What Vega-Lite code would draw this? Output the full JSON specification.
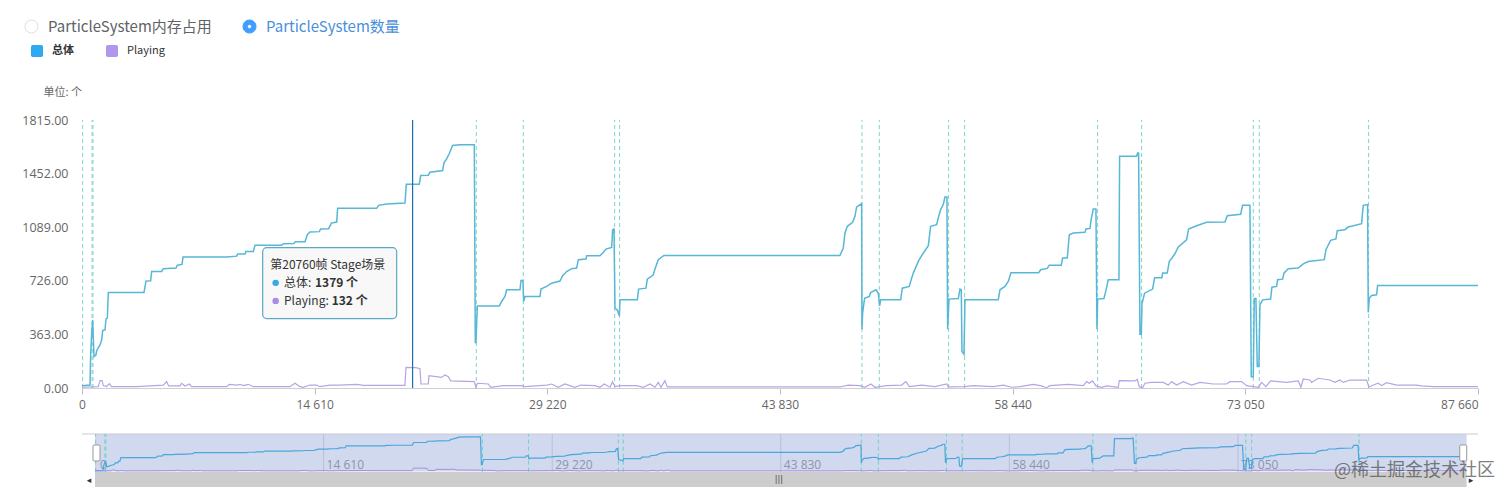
{
  "$schema": "https://vega.github.io/schema/vega-lite/v6.json",
  "background": "white",
  "padding": {"left": 21, "top": 19, "right": 0, "bottom": 0},
  "bounds": "flush",
  "spacing": 46,
  "config": {
    "view": {"stroke": null},
    "font": "Noto Sans CJK SC"
  },
  "datasets": {
    "total": [
      {"frame":0,"count":16},{"frame":502,"count":20},{"frame":544,"count":224},{"frame":607,"count":371},{"frame":670,"count":461},{"frame":753,"count":213},{"frame":879,"count":224},{"frame":921,"count":253},{"frame":1130,"count":292},{"frame":1235,"count":326},{"frame":1298,"count":389},{"frame":1444,"count":394},{"frame":1507,"count":468},{"frame":1591,"count":473},{"frame":1653,"count":647},{"frame":3893,"count":647},{"frame":4019,"count":724},{"frame":4312,"count":726},{"frame":4374,"count":789},{"frame":5002,"count":789},{"frame":5107,"count":808},{"frame":5902,"count":812},{"frame":5986,"count":832},{"frame":6279,"count":837},{"frame":6342,"count":887},{"frame":9084,"count":887},{"frame":9712,"count":893},{"frame":9774,"count":907},{"frame":10235,"count":907},{"frame":10298,"count":925},{"frame":10758,"count":925},{"frame":10863,"count":966},{"frame":12537,"count":966},{"frame":12642,"count":977},{"frame":13311,"count":979},{"frame":13395,"count":991},{"frame":14002,"count":991},{"frame":14149,"count":1038},{"frame":14316,"count":1056},{"frame":14902,"count":1059},{"frame":14986,"count":1077},{"frame":15488,"count":1079},{"frame":15656,"count":1117},{"frame":15991,"count":1124},{"frame":16053,"count":1217},{"frame":18502,"count":1217},{"frame":18628,"count":1237},{"frame":19130,"count":1246},{"frame":20281,"count":1253},{"frame":20365,"count":1380},{"frame":21181,"count":1380},{"frame":21265,"count":1439},{"frame":21746,"count":1441},{"frame":21851,"count":1461},{"frame":22646,"count":1473},{"frame":22730,"count":1525},{"frame":22897,"count":1552},{"frame":23065,"count":1588},{"frame":23274,"count":1642},{"frame":23735,"count":1647},{"frame":24635,"count":1647},{"frame":24697,"count":308},{"frame":24739,"count":308},{"frame":24823,"count":556},{"frame":26204,"count":556},{"frame":26351,"count":586},{"frame":26560,"count":620},{"frame":26665,"count":665},{"frame":27502,"count":665},{"frame":27565,"count":728},{"frame":27690,"count":728},{"frame":27732,"count":586},{"frame":27816,"count":620},{"frame":28758,"count":620},{"frame":28821,"count":670},{"frame":29176,"count":688},{"frame":29490,"count":710},{"frame":30014,"count":724},
      {"frame":30181,"count":760},{"frame":30433,"count":789},{"frame":30747,"count":808},{"frame":31061,"count":812},{"frame":31165,"count":869},{"frame":31647,"count":873},{"frame":31688,"count":896},{"frame":32526,"count":896},{"frame":32735,"count":918},{"frame":32902,"count":941},{"frame":33258,"count":952},{"frame":33321,"count":1072},{"frame":33405,"count":1077},{"frame":33467,"count":541},{"frame":33614,"count":529},{"frame":33740,"count":489},{"frame":33781,"count":597},{"frame":34870,"count":597},{"frame":34953,"count":670},{"frame":35414,"count":676},{"frame":35498,"count":737},{"frame":35874,"count":767},{"frame":36000,"count":812},{"frame":36188,"count":869},{"frame":36544,"count":898},{"frame":47595,"count":898},{"frame":47805,"count":948},{"frame":47909,"count":1050},{"frame":48056,"count":1095},{"frame":48391,"count":1122},{"frame":48537,"count":1163},{"frame":48642,"count":1226},{"frame":48956,"count":1249},{"frame":48977,"count":398},{"frame":49018,"count":507},{"frame":49144,"count":608},{"frame":49437,"count":620},{"frame":49521,"count":647},{"frame":49856,"count":665},{"frame":50002,"count":642},{"frame":50086,"count":556},{"frame":50149,"count":597},{"frame":51405,"count":597},{"frame":51510,"count":676},{"frame":51949,"count":688},{"frame":52095,"count":744},{"frame":52200,"count":778},{"frame":52514,"count":857},{"frame":52723,"count":896},{"frame":53142,"count":964},{"frame":53288,"count":1095},{"frame":53665,"count":1106},{"frame":53770,"count":1151},{"frame":53916,"count":1208},{"frame":54083,"count":1242},{"frame":54188,"count":1294},{"frame":54314,"count":1294},{"frame":54356,"count":398},{"frame":54439,"count":602},{"frame":55025,"count":606},{"frame":55130,"count":670},{"frame":55214,"count":665},{"frame":55255,"count":247},{"frame":55381,"count":228},{"frame":55444,"count":597},{"frame":57537,"count":597},{"frame":57642,"count":665},{"frame":57956,"count":688},{"frame":58165,"count":722},{"frame":58332,"count":780},{"frame":60069,"count":780},{"frame":60195,"count":801},{"frame":60614,"count":810},{"frame":60739,"count":832},
      {"frame":61492,"count":832},{"frame":61576,"count":880},{"frame":61869,"count":880},{"frame":61995,"count":1038},{"frame":62246,"count":1050},{"frame":62978,"count":1054},{"frame":63041,"count":1077},{"frame":63292,"count":1081},{"frame":63376,"count":1145},{"frame":63502,"count":1212},{"frame":63669,"count":1212},{"frame":63732,"count":398},{"frame":63774,"count":602},{"frame":64171,"count":606},{"frame":64297,"count":661},{"frame":64443,"count":733},{"frame":65113,"count":733},{"frame":65155,"count":1570},{"frame":66223,"count":1570},{"frame":66285,"count":1592},{"frame":66348,"count":1592},{"frame":66432,"count":364},{"frame":66516,"count":364},{"frame":66558,"count":570},{"frame":66725,"count":642},{"frame":67227,"count":670},{"frame":67353,"count":746},{"frame":67813,"count":746},{"frame":67855,"count":778},{"frame":68148,"count":778},{"frame":68273,"count":857},{"frame":68629,"count":909},{"frame":68839,"count":955},{"frame":69362,"count":1004},{"frame":69488,"count":1077},{"frame":69990,"count":1099},{"frame":70618,"count":1122},{"frame":71769,"count":1124},{"frame":71915,"count":1167},{"frame":72752,"count":1176},{"frame":72878,"count":1237},{"frame":73339,"count":1237},{"frame":73422,"count":77},{"frame":73548,"count":77},{"frame":73611,"count":606},{"frame":73715,"count":606},{"frame":73799,"count":145},{"frame":73904,"count":145},{"frame":73967,"count":563},{"frame":74134,"count":597},{"frame":74636,"count":602},{"frame":74720,"count":683},{"frame":75013,"count":688},{"frame":75076,"count":733},{"frame":75390,"count":737},{"frame":75474,"count":778},{"frame":75745,"count":808},{"frame":76373,"count":812},{"frame":76687,"count":841},{"frame":77001,"count":857},{"frame":78006,"count":869},{"frame":78111,"count":936},{"frame":78404,"count":1000},{"frame":78738,"count":1009},{"frame":78822,"count":1065},{"frame":79303,"count":1072},{"frame":79513,"count":1090},{"frame":80350,"count":1113},{"frame":80455,"count":1237},{"frame":80727,"count":1242},{"frame":80769,"count":511},{"frame":80831,"count":608},{"frame":80978,"count":627},{"frame":81292,"count":631},{"frame":81355,"count":694},{"frame":87660,"count":694}
    ],
    "playing": [
      {"frame":0,"count":5},{"frame":1026,"count":9},{"frame":1130,"count":50},{"frame":1256,"count":50},{"frame":1340,"count":16},{"frame":1549,"count":9},{"frame":1716,"count":29},{"frame":1863,"count":9},{"frame":3433,"count":9},{"frame":5107,"count":20},{"frame":5316,"count":43},{"frame":5442,"count":14},{"frame":6153,"count":14},{"frame":6258,"count":32},{"frame":6467,"count":14},{"frame":6739,"count":27},{"frame":6886,"count":9},{"frame":9084,"count":9},{"frame":9251,"count":25},{"frame":9712,"count":20},{"frame":9921,"count":25},{"frame":10130,"count":16},{"frame":10444,"count":25},{"frame":10758,"count":9},{"frame":13060,"count":9},{"frame":13374,"count":32},{"frame":13688,"count":9},{"frame":13897,"count":5},{"frame":14316,"count":20},{"frame":14735,"count":20},{"frame":14944,"count":9},{"frame":15572,"count":20},{"frame":16200,"count":20},{"frame":17246,"count":25},{"frame":17665,"count":18},{"frame":20281,"count":18},{"frame":20344,"count":140},{"frame":20972,"count":138},{"frame":21223,"count":131},{"frame":21286,"count":27},{"frame":21746,"count":27},{"frame":21788,"count":84},{"frame":22583,"count":72},{"frame":22793,"count":88},{"frame":23002,"count":77},{"frame":23149,"count":48},{"frame":24635,"count":43},{"frame":24739,"count":5},{"frame":24823,"count":32},{"frame":25514,"count":27},{"frame":25660,"count":5},{"frame":26456,"count":16},{"frame":27607,"count":16},{"frame":27816,"count":9},{"frame":29176,"count":20},{"frame":29490,"count":27},{"frame":29909,"count":5},{"frame":30328,"count":27},{"frame":30956,"count":5},{"frame":31312,"count":20},{"frame":32212,"count":16},{"frame":32526,"count":5},{"frame":32798,"count":27},{"frame":33154,"count":5},{"frame":33321,"count":43},{"frame":33467,"count":9},{"frame":33781,"count":16},{"frame":34828,"count":16},{"frame":35247,"count":5},{"frame":35665,"count":27},{"frame":35979,"count":5},{"frame":36188,"count":38},{"frame":36356,"count":5},{"frame":36607,"count":50},{"frame":36753,"count":7},{"frame":47595,"count":7},{"frame":48118,"count":20},{"frame":48851,"count":16},{"frame":49165,"count":5},{"frame":49541,"count":27},{"frame":49793,"count":5},{"frame":50525,"count":16},{"frame":51468,"count":20},{"frame":51740,"count":43},{"frame":51949,"count":9},{"frame":52723,"count":20},{"frame":53560,"count":9},{"frame":54293,"count":27},{"frame":54397,"count":7},{"frame":55444,"count":9},{"frame":55967,"count":16},{"frame":57223,"count":9},{"frame":57851,"count":20},{"frame":58374,"count":5},{"frame":58897,"count":9},{"frame":59734,"count":25},{"frame":60257,"count":14},{"frame":60571,"count":2},{"frame":60781,"count":16},{"frame":61932,"count":25},{"frame":62874,"count":16},{"frame":63083,"count":43},{"frame":63250,"count":32},{"frame":63460,"count":48},{"frame":63669,"count":14},{"frame":64025,"count":5},{"frame":64339,"count":14},{"frame":65071,"count":5},{"frame":65134,"count":50},{"frame":66118,"count":48},{"frame":66265,"count":59},{"frame":66390,"count":9},{"frame":66599,"count":2},{"frame":66746,"count":32},{"frame":67164,"count":38},{"frame":67897,"count":38},{"frame":68211,"count":20},{"frame":68420,"count":43},{"frame":68734,"count":20},{"frame":69153,"count":43},{"frame":69676,"count":20},{"frame":70199,"count":38},{"frame":71036,"count":27},{"frame":71874,"count":27},{"frame":72083,"count":43},{"frame":72815,"count":43},{"frame":73129,"count":16},{"frame":73548,"count":9},{"frame":73862,"count":5},{"frame":74071,"count":38},{"frame":74343,"count":9},{"frame":74636,"count":48},{"frame":75641,"count":38},{"frame":76373,"count":48},{"frame":76541,"count":5},{"frame":76687,"count":61},{"frame":77106,"count":54},{"frame":77211,"count":38},{"frame":77629,"count":66},{"frame":78362,"count":54},{"frame":78675,"count":38},{"frame":78989,"count":54},{"frame":79199,"count":38},{"frame":79617,"count":54},{"frame":80664,"count":54},{"frame":80810,"count":5},{"frame":81083,"count":20},{"frame":81397,"count":32},{"frame":81606,"count":16},{"frame":81920,"count":36},{"frame":82548,"count":20},{"frame":83803,"count":20},{"frame":84117,"count":14},{"frame":84850,"count":9},{"frame":87660,"count":9}
    ],
    "scenes": [
      {"frame":40},{"frame":630},{"frame":690},{"frame":24760},{"frame":27710},{"frame":33447},{"frame":33760},{"frame":48977},{"frame":50065},{"frame":54418},{"frame":55423},{"frame":63774},{"frame":66536},{"frame":73548},{"frame":73925},{"frame":80790}
    ],
    "ticks": [
      {"frame":14610,"label":"14 610"},{"frame":29220,"label":"29 220"},{"frame":43830,"label":"43 830"},{"frame":58440,"label":"58 440"},{"frame":73050,"label":"73 050"}
    ]
  },
  "vconcat": [
    {
      "width": 1396,
      "height": 268,
      "layer": [
        {
          "data": {"name": "scenes"},
          "mark": {"type": "rule", "color": "#7fd4cc", "strokeWidth": 1, "strokeDash": [4, 3]},
          "encoding": {
            "x": {
              "field": "frame",
              "type": "quantitative",
              "title": null,
              "scale": {"domain": [0, 87660], "nice": false},
              "axis": {
                "values": [0, 14610, 29220, 43830, 58440, 73050, 87660],
                "grid": false,
                "domainColor": "#cfcfcf",
                "tickColor": "#bdbdbd",
                "tickSize": 6,
                "labelFont": "Open Sans",
                "labelFontSize": 12,
                "labelColor": "#666666",
                "labelPadding": 5,
                "labelFlush": false,
                "labelOverlap": false,
                "labelAlign": {"condition": {"test": "datum.value === 87660", "value": "right"}, "value": "center"},
                "labelExpr": "replace(format(datum.value, ','), ',', ' ')"
              }
            },
            "y": {
              "datum": 0,
              "type": "quantitative",
              "title": "单位: 个",
              "scale": {"domain": [0, 1815], "nice": false},
              "axis": {
                "values": [0, 363, 726, 1089, 1452, 1815],
                "format": ".2f",
                "domain": false,
                "ticks": false,
                "gridColor": "#e4e4e4",
                "labelFont": "Open Sans",
                "labelFontSize": 12.5,
                "labelColor": "#666666",
                "labelPadding": 14,
                "titleAngle": 0,
                "titleFont": "Noto Sans CJK SC",
                "titleFontSize": 11,
                "titleFontWeight": "normal",
                "titleColor": "#666666",
                "titleAlign": "left",
                "titleBaseline": "middle",
                "titleX": -39,
                "titleY": -28
              }
            },
            "y2": {"datum": 1815}
          }
        },
        {
          "data": {"name": "total"},
          "mark": {"type": "line", "strokeWidth": 1.5},
          "encoding": {
            "x": {"field": "frame", "type": "quantitative", "title": null},
            "y": {"field": "count", "type": "quantitative", "title": "单位: 个"},
            "color": {
              "datum": "总体",
              "scale": {"domain": ["总体", "Playing"], "range": ["#56b7d6", "#b8a3e3"]},
              "legend": {
                "title": null,
                "orient": "none",
                "legendX": -51,
                "legendY": -75,
                "direction": "horizontal",
                "columns": 2,
                "columnPadding": 32,
                "symbolOffset": 0,
                "symbolSize": 144,
                "symbolType": "M-0.7,-1H0.7Q1,-1 1,-0.7V0.7Q1,1 0.7,1H-0.7Q-1,1 -1,0.7V-0.7Q-1,-1 -0.7,-1Z",
                "symbolStrokeWidth": 0,
                "labelOffset": 9,
                "labelFontSize": 11,
                "labelColor": "#333333",
                "encoding": {
                  "symbols": {"fill": {"condition": {"test": "datum.value === '总体'", "value": "#2fa9f2"}, "value": "#b197ec"}},
                  "labels": {"fontWeight": {"condition": {"test": "datum.value === '总体'", "value": "bold"}, "value": "normal"}}
                }
              }
            }
          }
        },
        {
          "data": {"name": "playing"},
          "mark": {"type": "line", "strokeWidth": 1.2},
          "encoding": {
            "x": {"field": "frame", "type": "quantitative", "title": null},
            "y": {"field": "count", "type": "quantitative", "title": "单位: 个"},
            "color": {"datum": "Playing", "legend": null}
          }
        },
        {
          "data": {"values": [{"frame": 20760}]},
          "mark": {"type": "rule", "color": "#1a6fae", "strokeWidth": 1.2},
          "encoding": {
            "x": {"field": "frame", "type": "quantitative", "title": null},
            "y": {"datum": 0, "type": "quantitative", "title": "单位: 个"},
            "y2": {"datum": 1815}
          }
        },
        {
          "data": {"values": [{"frame": 20760}]},
          "mark": {"type": "rect", "fill": "#f8f8f8", "fillOpacity": 0.95, "stroke": "#5aa9c6", "strokeWidth": 1.2, "cornerRadius": 4},
          "encoding": {
            "x": {"datum": 11346, "type": "quantitative", "title": null},
            "x2": {"datum": 19760},
            "y": {"datum": 950, "type": "quantitative", "title": "单位: 个"},
            "y2": {"datum": 470}
          }
        },
        {
          "data": {"values": [{"line": "第20760帧 Stage场景"}]},
          "mark": {"type": "text", "align": "left", "baseline": "middle", "fontSize": 12, "color": "#333333"},
          "encoding": {
            "x": {"datum": 11823, "type": "quantitative", "title": null},
            "y": {"datum": 830, "type": "quantitative", "title": "单位: 个"},
            "text": {"field": "line"}
          }
        },
        {
          "data": {"values": [{"line": "总体:"}]},
          "mark": {"type": "text", "align": "left", "baseline": "middle", "fontSize": 12, "color": "#333333"},
          "encoding": {
            "x": {"datum": 12684, "type": "quantitative", "title": null},
            "y": {"datum": 712, "type": "quantitative", "title": "单位: 个"},
            "text": {"field": "line"}
          }
        },
        {
          "data": {"values": [{"line": "1379 个"}]},
          "mark": {"type": "text", "align": "left", "baseline": "middle", "fontSize": 12, "fontWeight": "bold", "color": "#333333"},
          "encoding": {
            "x": {"datum": 14630, "type": "quantitative", "title": null},
            "y": {"datum": 712, "type": "quantitative", "title": "单位: 个"},
            "text": {"field": "line"}
          }
        },
        {
          "data": {"values": [{"line": "Playing:"}]},
          "mark": {"type": "text", "align": "left", "baseline": "middle", "fontSize": 12, "color": "#333333"},
          "encoding": {
            "x": {"datum": 12684, "type": "quantitative", "title": null},
            "y": {"datum": 590, "type": "quantitative", "title": "单位: 个"},
            "text": {"field": "line"}
          }
        },
        {
          "data": {"values": [{"line": "132 个"}]},
          "mark": {"type": "text", "align": "left", "baseline": "middle", "fontSize": 12, "fontWeight": "bold", "color": "#333333"},
          "encoding": {
            "x": {"datum": 15680, "type": "quantitative", "title": null},
            "y": {"datum": 590, "type": "quantitative", "title": "单位: 个"},
            "text": {"field": "line"}
          }
        },
        {
          "data": {"values": [{"series": "总体"}]},
          "mark": {"type": "point", "filled": true, "size": 42, "opacity": 1, "color": "#35a8e8"},
          "encoding": {
            "x": {"datum": 12160, "type": "quantitative", "title": null},
            "y": {"datum": 712, "type": "quantitative", "title": "单位: 个"}
          }
        },
        {
          "data": {"values": [{"series": "Playing"}]},
          "mark": {"type": "point", "filled": true, "size": 42, "opacity": 1, "color": "#a98de2"},
          "encoding": {
            "x": {"datum": 12160, "type": "quantitative", "title": null},
            "y": {"datum": 590, "type": "quantitative", "title": "单位: 个"}
          }
        },
        {
          "data": {"values": [{"view": "ParticleSystem内存占用"}, {"view": "ParticleSystem数量"}]},
          "mark": {"type": "point", "filled": true, "opacity": 0},
          "encoding": {
            "x": {"datum": 0, "type": "quantitative", "title": null},
            "y": {"datum": 0, "type": "quantitative", "title": "单位: 个"},
            "fill": {
              "field": "view",
              "type": "nominal",
              "scale": {"domain": ["ParticleSystem内存占用", "ParticleSystem数量"], "range": ["#ffffff", "#409eff"]},
              "legend": {
                "title": null,
                "orient": "none",
                "legendX": -58,
                "legendY": -101,
                "direction": "horizontal",
                "columns": 2,
                "columnPadding": 29,
                "symbolSize": 169,
                "symbolOpacity": 1,
                "symbolOffset": 0,
                "symbolStrokeWidth": 1,
                "labelOffset": 9,
                "labelFontSize": 15,
                "labelLimit": 240,
                "encoding": {
                  "symbols": {"stroke": {"condition": {"test": "datum.value === 'ParticleSystem数量'", "value": "#409eff"}, "value": "#dcdfe6"}},
                  "labels": {"fill": {"condition": {"test": "datum.value === 'ParticleSystem数量'", "value": "#4a90d9"}, "value": "#606266"}}
                }
              }
            },
            "shape": {
              "field": "view",
              "type": "nominal",
              "scale": {"domain": ["ParticleSystem内存占用", "ParticleSystem数量"], "range": ["circle", "M0,-1A1,1 0 1,1 0,1A1,1 0 1,1 0,-1ZM0,-0.32A0.32,0.32 0 1,0 0,0.32A0.32,0.32 0 1,0 0,-0.32Z"]},
              "legend": {
                "title": null,
                "orient": "none",
                "legendX": -58,
                "legendY": -101,
                "direction": "horizontal",
                "columns": 2,
                "columnPadding": 29,
                "symbolSize": 169,
                "symbolOpacity": 1,
                "symbolOffset": 0,
                "symbolStrokeWidth": 1,
                "labelOffset": 9,
                "labelFontSize": 15,
                "labelLimit": 240,
                "encoding": {
                  "symbols": {"stroke": {"condition": {"test": "datum.value === 'ParticleSystem数量'", "value": "#409eff"}, "value": "#dcdfe6"}},
                  "labels": {"fill": {"condition": {"test": "datum.value === 'ParticleSystem数量'", "value": "#4a90d9"}, "value": "#606266"}}
                }
              }
            }
          }
        }
      ],
      "resolve": {"legend": {"color": "independent", "fill": "independent", "shape": "independent"}}
    },
    {
      "width": 1396,
      "height": 53,
      "layer": [
        {
          "data": {"values": [{"part": "slider"}]},
          "mark": {"type": "rect", "fill": "#d0d9ee"},
          "encoding": {
            "x": {"datum": 0, "type": "quantitative", "axis": null, "scale": {"domain": [-831, 88390], "nice": false}},
            "x2": {"datum": 87660},
            "y": {"datum": -30, "type": "quantitative", "axis": null, "scale": {"domain": [-774, 1790], "nice": false}},
            "y2": {"datum": 1790}
          }
        },
        {
          "data": {"values": [{"part": "border"}]},
          "mark": {"type": "rule", "color": "#c9c9d6", "strokeWidth": 1},
          "encoding": {
            "x": {"datum": -831, "type": "quantitative", "axis": null},
            "x2": {"datum": 88390},
            "y": {"datum": 1790, "type": "quantitative", "axis": null}
          }
        },
        {
          "data": {"values": [{"part": "track"}]},
          "mark": {"type": "rect", "fill": "#cdcdcd"},
          "encoding": {
            "x": {"datum": 0, "type": "quantitative", "axis": null},
            "x2": {"datum": 87660},
            "y": {"datum": -774, "type": "quantitative", "axis": null},
            "y2": {"datum": -50}
          }
        },
        {
          "data": {"name": "ticks"},
          "mark": {"type": "rule", "color": "#b7c0dc", "strokeWidth": 1},
          "encoding": {
            "x": {"field": "frame", "type": "quantitative", "axis": null},
            "y": {"datum": -30, "type": "quantitative", "axis": null},
            "y2": {"datum": 1790}
          }
        },
        {
          "data": {"name": "ticks"},
          "mark": {"type": "text", "align": "left", "baseline": "middle", "dx": 3, "font": "Open Sans", "fontSize": 12, "color": "#8d95ad"},
          "encoding": {
            "x": {"field": "frame", "type": "quantitative", "axis": null},
            "y": {"datum": 290, "type": "quantitative", "axis": null},
            "text": {"field": "label"}
          }
        },
        {
          "data": {"values": [{"frame": 0, "label": "0"}]},
          "mark": {"type": "text", "align": "left", "baseline": "middle", "dx": 5, "font": "Open Sans", "fontSize": 12, "color": "#8d95ad"},
          "encoding": {
            "x": {"field": "frame", "type": "quantitative", "axis": null},
            "y": {"datum": 290, "type": "quantitative", "axis": null},
            "text": {"field": "label"}
          }
        },
        {
          "data": {"name": "scenes"},
          "mark": {"type": "rule", "color": "#6fd0c8", "strokeWidth": 1, "strokeDash": [4, 3]},
          "encoding": {
            "x": {"field": "frame", "type": "quantitative", "axis": null},
            "y": {"datum": -30, "type": "quantitative", "axis": null},
            "y2": {"datum": 1790}
          }
        },
        {
          "data": {"name": "total"},
          "mark": {"type": "line", "color": "#4aa6dc", "strokeWidth": 1.2},
          "encoding": {
            "x": {"field": "frame", "type": "quantitative", "axis": null},
            "y": {"field": "count", "type": "quantitative", "axis": null}
          }
        },
        {
          "data": {"name": "playing"},
          "mark": {"type": "line", "color": "#a98de2", "strokeWidth": 1},
          "encoding": {
            "x": {"field": "frame", "type": "quantitative", "axis": null},
            "y": {"field": "count", "type": "quantitative", "axis": null}
          }
        },
        {
          "data": {"values": [{"handle": "start"}]},
          "mark": {"type": "rect", "fill": "#ffffff", "stroke": "#999999", "strokeWidth": 1, "cornerRadius": 1},
          "encoding": {
            "x": {"datum": -128, "type": "quantitative", "axis": null},
            "x2": {"datum": 320},
            "y": {"datum": 1258, "type": "quantitative", "axis": null},
            "y2": {"datum": 484}
          }
        },
        {
          "data": {"values": [{"handle": "end"}]},
          "mark": {"type": "rect", "fill": "#ffffff", "stroke": "#999999", "strokeWidth": 1, "cornerRadius": 1},
          "encoding": {
            "x": {"datum": 87224, "type": "quantitative", "axis": null},
            "x2": {"datum": 87670},
            "y": {"datum": 1258, "type": "quantitative", "axis": null},
            "y2": {"datum": 484}
          }
        },
        {
          "data": {"values": [{"glyph": "◂"}]},
          "mark": {"type": "text", "baseline": "middle", "fontSize": 9, "color": "#333333", "font": "DejaVu Sans"},
          "encoding": {
            "x": {"datum": -383, "type": "quantitative", "axis": null},
            "y": {"datum": -436, "type": "quantitative", "axis": null},
            "text": {"field": "glyph"}
          }
        },
        {
          "data": {"values": [{"glyph": "▸"}]},
          "mark": {"type": "text", "baseline": "middle", "fontSize": 9, "color": "#333333", "font": "DejaVu Sans"},
          "encoding": {
            "x": {"datum": 87940, "type": "quantitative", "axis": null},
            "y": {"datum": -436, "type": "quantitative", "axis": null},
            "text": {"field": "glyph"}
          }
        },
        {
          "data": {"values": [{"glyph": "|||"}]},
          "mark": {"type": "text", "baseline": "middle", "fontSize": 8, "color": "#444444", "font": "DejaVu Sans"},
          "encoding": {
            "x": {"datum": 43710, "type": "quantitative", "axis": null},
            "y": {"datum": -436, "type": "quantitative", "axis": null},
            "text": {"field": "glyph"}
          }
        },
        {
          "data": {"values": [{"mark": "@稀土掘金技术社区"}]},
          "mark": {"type": "text", "align": "right", "baseline": "middle", "fontSize": 18, "color": "#555555", "opacity": 0.75},
          "encoding": {
            "x": {"datum": 89477, "type": "quantitative", "axis": null},
            "y": {"datum": 0, "type": "quantitative", "axis": null},
            "text": {"field": "mark"}
          }
        }
      ]
    }
  ]
}
